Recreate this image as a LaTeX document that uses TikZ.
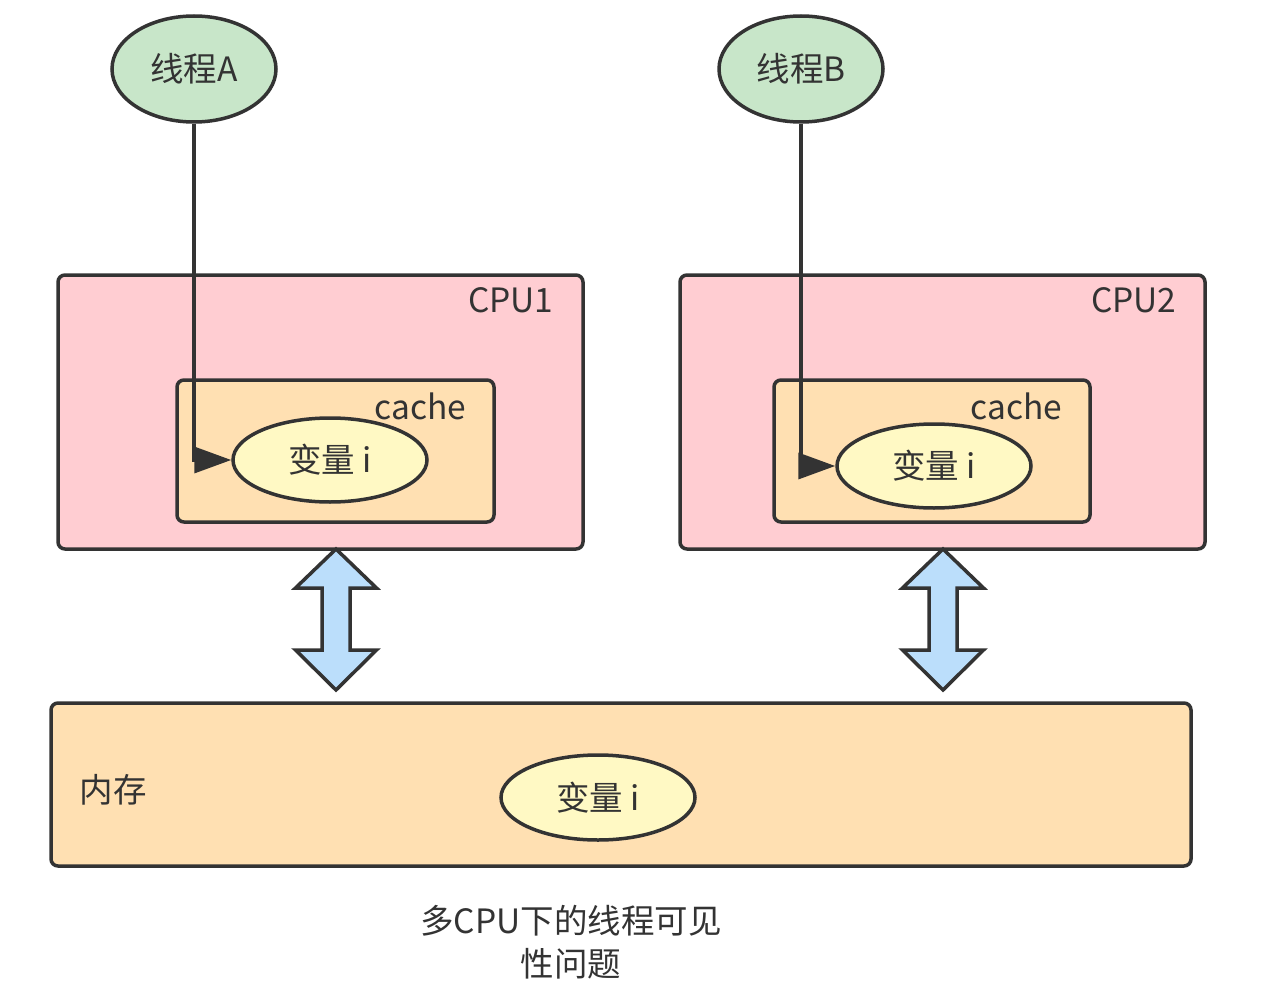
\documentclass[tikz,border=0pt]{standalone}
\usepackage{fontspec}
\setmainfont{Noto Sans CJK SC}
\usetikzlibrary{shapes.geometric,arrows.meta}
\definecolor{strokec}{HTML}{333333}
\definecolor{threadc}{HTML}{C8E6C9}
\definecolor{cpuc}{HTML}{FFCDD2}
\definecolor{cachec}{HTML}{FFE0B2}
\definecolor{varc}{HTML}{FFF9C4}
\definecolor{arrowc}{HTML}{BBDEFB}
\begin{document}
\begin{tikzpicture}[x=1pt,y=-1pt,
  every node/.style={text=strokec,font=\fontsize{33.5}{43}\selectfont},
  thread/.style={ellipse,draw=strokec,line width=3.5pt,fill=threadc,inner sep=0pt,minimum width=164pt,minimum height=106pt},
  varnode/.style={ellipse,draw=strokec,line width=3.5pt,fill=varc,inner sep=0pt,minimum width=194pt,minimum height=84pt},
  box/.style={rectangle,rounded corners=7pt,draw=strokec,line width=3.5pt,inner sep=0pt},
  conn/.style={draw=strokec,line width=3.5pt,-{Triangle[length=37pt,width=26pt]}},
  dbl/.style={draw=strokec,line width=3.5pt,fill=arrowc,line join=miter}]
\fill[white] (0,0) rectangle (1273,987);
\useasboundingbox (0,0) rectangle (1273,987);

\node[thread] (tA) at (194,69) {线程A};
\node[thread] (tB) at (801,69) {线程B};

\node[box,fill=cpuc,minimum width=525pt,minimum height=274pt] (cpu1) at (320.5,412) {};
\node[box,fill=cpuc,minimum width=525pt,minimum height=274pt] (cpu2) at (942.5,412) {};
\node[anchor=east] (cpu1lbl) at (557,300) {CPU1};
\node[anchor=east] (cpu2lbl) at (1180,300) {CPU2};

\node[box,fill=cachec,minimum width=317pt,minimum height=142pt] (cache1) at (335.5,451) {};
\node[box,fill=cachec,minimum width=316pt,minimum height=142pt] (cache2) at (932,451) {};
\node[anchor=east] (cache1lbl) at (470,406) {cache};
\node[anchor=east] (cache2lbl) at (1066,406) {cache};

\node[varnode] (v1) at (330,460) {变量 i};
\node[varnode] (v2) at (934,466) {变量 i};

\node[box,fill=cachec,minimum width=1140pt,minimum height=163pt] (mem) at (621,784.5) {};
\node (memlbl) at (113,790) {内存};
\node[varnode,minimum height=85pt] (mv) at (598,797.5) {变量 i};

\draw[conn] (tA.south) |- (v1.west);
\draw[conn] (tB.south) |- (v2.west);

\coordinate (a1) at (336,549);
\coordinate (a2) at (943,549);
\foreach \c in {a1,a2}{
  \draw[dbl] (\c) -- ++(40.5,39) -- ++(-26.5,0) -- ++(0,62) -- ++(26.5,0)
    -- ++(-40.5,40) -- ++(-40.5,-40) -- ++(26.5,0) -- ++(0,-62) -- ++(-26.5,0) -- cycle;
}

\node[align=center] (title) at (571,942) {多CPU下的线程可见\\性问题};
\end{tikzpicture}
\end{document}
